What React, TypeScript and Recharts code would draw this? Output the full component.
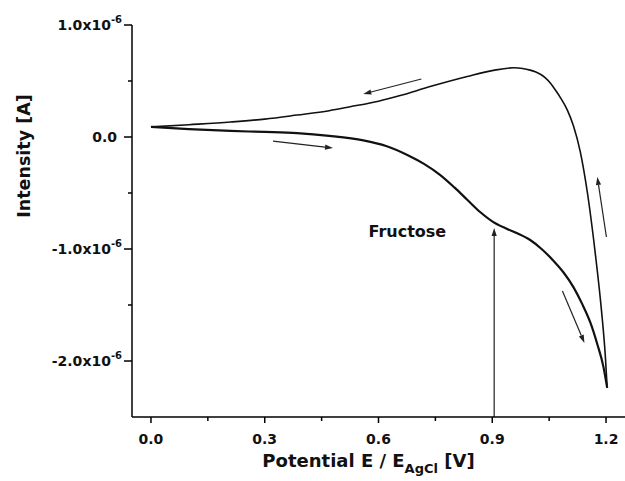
import { LineChart, Line, XAxis, YAxis, ReferenceLine, ReferenceDot, Label } from "recharts"

// potential [V] and current [x10^-6 A], forward scan (lower branch)
const fwdE = [0, 0.1, 0.21, 0.3, 0.385, 0.47, 0.56, 0.62, 0.676, 0.72, 0.763, 0.8, 0.834, 0.868, 0.903, 0.935, 0.966, 1.0, 1.03, 1.06, 1.088, 1.114, 1.137, 1.159, 1.177, 1.193, 1.203]
const fwdI = [0.09, 0.07, 0.054, 0.045, 0.034, 0.01, -0.03, -0.08, -0.16, -0.24, -0.34, -0.45, -0.56, -0.67, -0.76, -0.815, -0.86, -0.92, -1.0, -1.1, -1.21, -1.34, -1.49, -1.66, -1.85, -2.05, -2.24]

// reverse scan (upper branch), listed by increasing potential
const revE = [0, 0.1, 0.21, 0.3, 0.385, 0.47, 0.525, 0.6, 0.657, 0.736, 0.834, 0.903, 0.956, 0.98, 1.0, 1.015, 1.027, 1.04, 1.053, 1.066, 1.08, 1.098, 1.114, 1.132, 1.151, 1.172, 1.188, 1.198, 1.203]
const revI = [0.09, 0.11, 0.134, 0.16, 0.196, 0.235, 0.27, 0.32, 0.37, 0.45, 0.54, 0.595, 0.618, 0.612, 0.597, 0.58, 0.56, 0.528, 0.482, 0.422, 0.35, 0.24, 0.1, -0.13, -0.5, -1.05, -1.55, -1.95, -2.24]

const xMajor = [0, 0.3, 0.6, 0.9, 1.2]
const xMinor = [0.15, 0.45, 0.75, 1.05]
const yMajor = [1, 0, -1, -2]
const yMinor = [0.5, -0.5, -1.5]

// scan direction arrows: [E1, I1, E2, I2]
const arrows = [
  [0.322, -0.036, 0.48, -0.098],
  [0.713, 0.518, 0.56, 0.384],
  [1.201, -0.893, 1.177, -0.357],
  [1.085, -1.375, 1.143, -1.839],
  [0.905, -2.5, 0.905, -0.8125],
]

const forward = fwdE.map((x, k) => ({ x, i: fwdI[k] }))
const reverse = revE.map((x, k) => ({ x, i: revI[k] }))

const FONT = "'DejaVu Sans', sans-serif"

function XTick({ x, y, payload }: any) {
  const v = payload.value
  const major = xMajor.includes(v)
  return (
    <g>
      <line x1={x} y1={y} x2={x} y2={y + (major ? 6 : 4)} stroke="#000" strokeWidth={1.5} />
      {major && (
        <text x={x} y={y + 27} textAnchor="middle" fontFamily={FONT} fontWeight="bold" fontSize={14} fill="#111">
          {v.toFixed(1)}
        </text>
      )}
    </g>
  )
}

function YTick({ x, y, payload }: any) {
  const v = payload.value
  const major = yMajor.includes(v)
  return (
    <g>
      <line x1={x - (major ? 8 : 4)} y1={y} x2={x} y2={y} stroke="#000" strokeWidth={1.5} />
      {major && v === 0 && (
        <text x={x - 15} y={y + 5} textAnchor="end" fontFamily={FONT} fontWeight="bold" fontSize={14} fill="#111">
          0.0
        </text>
      )}
      {major && v !== 0 && (
        <text x={x - 10} y={y + 5} textAnchor="end" fontFamily={FONT} fontWeight="bold" fontSize={14} fill="#111">
          {v.toFixed(1)}x10<tspan fontSize={10} dy={-7}>-6</tspan>
        </text>
      )}
    </g>
  )
}

function XTitle({ viewBox }: any) {
  const { x, y, width } = viewBox
  return (
    <text x={x + width / 2 - 10} y={y + 50} textAnchor="middle" fontFamily={FONT} fontWeight="bold" fontSize={18} fill="#111">
      Potential E / E<tspan fontSize={13} dy={6}>AgCl</tspan>
      <tspan dy={-6}> [V]</tspan>
    </text>
  )
}

function YTitle({ viewBox }: any) {
  const cy = viewBox.y + 131
  return (
    <text x={30} y={cy} transform={`rotate(-90, 30, ${cy})`} textAnchor="middle" fontFamily={FONT} fontWeight="bold" fontSize={17.5} fill="#111">
      Intensity [A]
    </text>
  )
}

function Arrow({ x1, y1, x2, y2 }: any) {
  const dx = x2 - x1
  const dy = y2 - y1
  const len = Math.hypot(dx, dy) || 1
  const ux = dx / len
  const uy = dy / len
  const hl = 8
  const hw = 2.6
  const bx = x2 - ux * hl
  const by = y2 - uy * hl
  return (
    <g>
      <line x1={x1} y1={y1} x2={bx} y2={by} stroke="#222" strokeWidth={1.2} />
      <polygon
        points={`${x2},${y2} ${bx - uy * hw},${by + ux * hw} ${bx + uy * hw},${by - ux * hw}`}
        fill="#222"
      />
    </g>
  )
}

export default function App() {
  return (
    <div style={{ position: "absolute", left: 0, top: 0, background: "#fff" }}>
      <LineChart width={625} height={481} margin={{ top: 25, right: 0, bottom: 0, left: 0 }}>
        <XAxis
          dataKey="x"
          type="number"
          domain={[-0.05, 1.25]}
          allowDataOverflow
          ticks={[...xMajor, ...xMinor].sort((a, b) => a - b)}
          tick={<XTick />}
          tickLine={false}
          tickSize={0}
          tickMargin={0}
          axisLine={{ stroke: "#000", strokeWidth: 1.5 }}
          height={64}
        >
          <Label content={<XTitle />} />
        </XAxis>
        <YAxis
          type="number"
          domain={[-2.5, 1.0]}
          allowDataOverflow
          ticks={[...yMajor, ...yMinor].sort((a, b) => b - a)}
          tick={<YTick />}
          tickLine={false}
          tickSize={0}
          tickMargin={0}
          axisLine={{ stroke: "#000", strokeWidth: 1.5 }}
          width={132}
        >
          <Label content={<YTitle />} />
        </YAxis>
        <Line data={forward} dataKey="i" type="monotone" stroke="#111" strokeWidth={2.2} dot={false} isAnimationActive={false} />
        <Line data={reverse} dataKey="i" type="monotone" stroke="#111" strokeWidth={1.6} dot={false} isAnimationActive={false} />
        {arrows.map((a, k) => (
          <ReferenceLine
            key={k}
            segment={[{ x: a[0], y: a[1] }, { x: a[2], y: a[3] }]}
            ifOverflow="visible"
            shape={(p: any) => <Arrow {...p} />}
          />
        ))}
        <ReferenceDot
          x={0.676}
          y={-0.893}
          r={0}
          ifOverflow="visible"
          shape={(p: any) => (
            <text x={p.cx} y={p.cy} textAnchor="middle" fontFamily={FONT} fontWeight="bold" fontSize={16} fill="#111">
              Fructose
            </text>
          )}
        />
      </LineChart>
    </div>
  )
}
